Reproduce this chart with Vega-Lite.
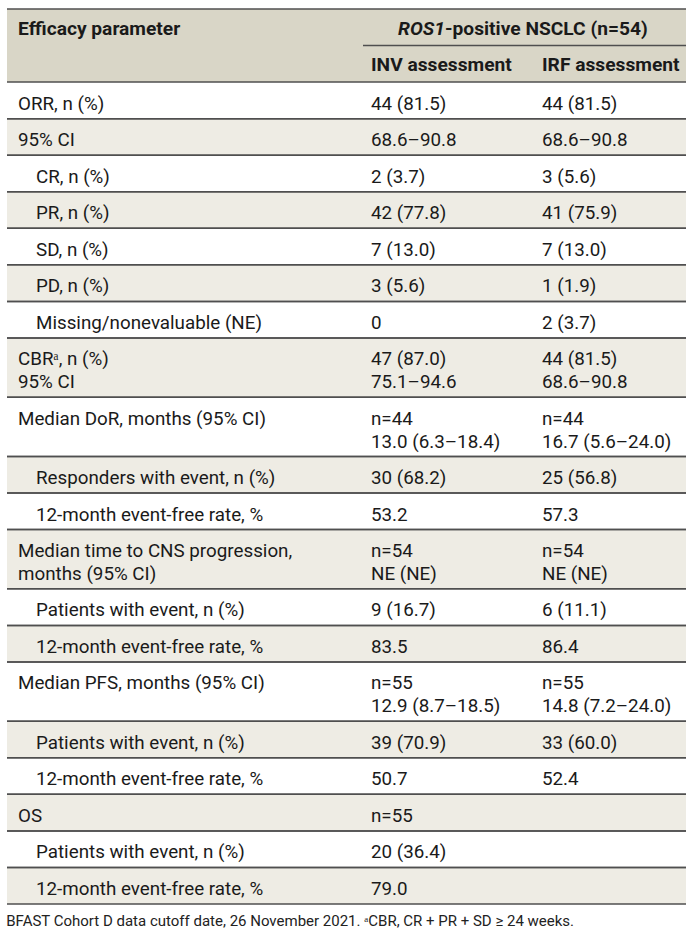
{
  "$schema": "https://vega.github.io/schema/vega-lite/v6.json",
  "width": 679,
  "height": 895,
  "autosize": {"type": "none"},
  "padding": {"left": 7, "top": 9, "right": 9, "bottom": 35},
  "background": "#ffffff",
  "config": {"view": {"stroke": null}, "text": {"font": "Roboto", "fontSize": 18.8, "color": "#1a1a1a"}},
  "title": {"text": "BFAST Cohort D data cutoff date, 26 November 2021. ᵃCBR, CR + PR + SD ≥ 24 weeks.", "orient": "bottom", "anchor": "start", "fontSize": 15, "fontWeight": "normal", "font": "Roboto", "color": "#222222", "offset": 9},
  "data": {"values": [
    {"label": "ORR, n (%)", "inv": "44 (81.5)", "irf": "44 (81.5)", "level": 0},
    {"label": "95% CI", "inv": "68.6–90.8", "irf": "68.6–90.8", "level": 0},
    {"label": "CR, n (%)", "inv": "2 (3.7)", "irf": "3 (5.6)", "level": 1},
    {"label": "PR, n (%)", "inv": "42 (77.8)", "irf": "41 (75.9)", "level": 1},
    {"label": "SD, n (%)", "inv": "7 (13.0)", "irf": "7 (13.0)", "level": 1},
    {"label": "PD, n (%)", "inv": "3 (5.6)", "irf": "1 (1.9)", "level": 1},
    {"label": "Missing/nonevaluable (NE)", "inv": "0", "irf": "2 (3.7)", "level": 1},
    {"label": "CBRᵃ, n (%)\n95% CI", "inv": "47 (87.0)\n75.1–94.6", "irf": "44 (81.5)\n68.6–90.8", "level": 0},
    {"label": "Median DoR, months (95% CI)", "inv": "n=44\n13.0 (6.3–18.4)", "irf": "n=44\n16.7 (5.6–24.0)", "level": 0},
    {"label": "Responders with event, n (%)", "inv": "30 (68.2)", "irf": "25 (56.8)", "level": 1},
    {"label": "12-month event-free rate, %", "inv": "53.2", "irf": "57.3", "level": 1},
    {"label": "Median time to CNS progression,\nmonths (95% CI)", "inv": "n=54\nNE (NE)", "irf": "n=54\nNE (NE)", "level": 0},
    {"label": "Patients with event, n (%)", "inv": "9 (16.7)", "irf": "6 (11.1)", "level": 1},
    {"label": "12-month event-free rate, %", "inv": "83.5", "irf": "86.4", "level": 1},
    {"label": "Median PFS, months (95% CI)", "inv": "n=55\n12.9 (8.7–18.5)", "irf": "n=55\n14.8 (7.2–24.0)", "level": 0},
    {"label": "Patients with event, n (%)", "inv": "39 (70.9)", "irf": "33 (60.0)", "level": 1},
    {"label": "12-month event-free rate, %", "inv": "50.7", "irf": "52.4", "level": 1},
    {"label": "OS", "inv": "n=55", "irf": "", "level": 0},
    {"label": "Patients with event, n (%)", "inv": "20 (36.4)", "irf": "", "level": 1},
    {"label": "12-month event-free rate, %", "inv": "79.0", "irf": "", "level": 1}
  ]},
  "transform": [
    {"calculate": "indexof(datum.inv, '\\n') >= 0 || indexof(datum.label, '\\n') >= 0 ? 2 : 1", "as": "lines"},
    {"window": [{"op": "row_number", "as": "i"}, {"op": "sum", "field": "lines", "as": "cum"}], "frame": [null, 0]},
    {"calculate": "74 + (datum.i - 1) * 14 + (datum.cum - datum.lines) * 23", "as": "top"},
    {"calculate": "datum.top + 14 + datum.lines * 23", "as": "bottom"}
  ],
  "layer": [
    {
      "data": {"values": [{"part": "header"}]},
      "mark": {"type": "rect", "fill": "#d9d6c7"},
      "encoding": {
        "x": {"datum": 0, "type": "quantitative", "scale": {"domain": [0, 1, 2, 3], "range": [0, 356, 527, 679]}, "axis": null},
        "x2": {"datum": 3},
        "y": {"datum": 0, "type": "quantitative", "scale": {"domain": [0, 906], "reverse": true, "nice": false, "zero": false}, "axis": null},
        "y2": {"datum": 74}
      }
    },
    {
      "mark": {"type": "rect"},
      "encoding": {
        "x": {"datum": 0, "type": "quantitative", "scale": {"domain": [0, 1, 2, 3], "range": [0, 356, 527, 679]}, "axis": null},
        "x2": {"datum": 3},
        "y": {"field": "top", "type": "quantitative", "scale": {"domain": [0, 906], "reverse": true, "nice": false, "zero": false}, "axis": null},
        "y2": {"field": "bottom"},
        "fill": {"condition": {"test": "datum.i % 2 == 0", "value": "#eeece4"}, "value": "#ffffff"}
      }
    },
    {
      "mark": {"type": "rule", "stroke": "#4f4f4f", "strokeWidth": 1.5},
      "encoding": {
        "x": {"datum": 0, "type": "quantitative", "scale": {"domain": [0, 1, 2, 3], "range": [0, 356, 527, 679]}, "axis": null},
        "x2": {"datum": 3},
        "y": {"field": "top", "type": "quantitative", "scale": {"domain": [0, 906], "reverse": true, "nice": false, "zero": false}, "axis": null}
      }
    },
    {
      "mark": {"type": "rule", "stroke": "#4f4f4f", "strokeWidth": 1.5},
      "encoding": {
        "x": {"datum": 0, "type": "quantitative", "scale": {"domain": [0, 1, 2, 3], "range": [0, 356, 527, 679]}, "axis": null},
        "x2": {"datum": 3},
        "y": {"field": "bottom", "type": "quantitative", "scale": {"domain": [0, 906], "reverse": true, "nice": false, "zero": false}, "axis": null}
      }
    },
    {
      "data": {"values": [{"part": "header"}]},
      "mark": {"type": "rule", "stroke": "#4f4f4f", "strokeWidth": 1.5},
      "encoding": {
        "x": {"datum": 0, "type": "quantitative", "scale": {"domain": [0, 1, 2, 3], "range": [0, 356, 527, 679]}, "axis": null},
        "x2": {"datum": 3},
        "y": {"datum": 0, "type": "quantitative", "scale": {"domain": [0, 906], "reverse": true, "nice": false, "zero": false}, "axis": null}
      }
    },
    {
      "data": {"values": [{"part": "header"}]},
      "mark": {"type": "rule", "stroke": "#4f4f4f", "strokeWidth": 1.5},
      "encoding": {
        "x": {"datum": 1, "type": "quantitative", "scale": {"domain": [0, 1, 2, 3], "range": [0, 356, 527, 679]}, "axis": null},
        "x2": {"datum": 3},
        "y": {"datum": 37, "type": "quantitative", "scale": {"domain": [0, 906], "reverse": true, "nice": false, "zero": false}, "axis": null}
      }
    },
    {
      "data": {"values": [{"part": "header", "text": "Efficacy parameter"}]},
      "mark": {"type": "text", "align": "left", "baseline": "top", "dx": 11, "dy": 10.5, "fontWeight": "bold", "fontSize": 19.2},
      "encoding": {
        "x": {"datum": 0, "type": "quantitative", "scale": {"domain": [0, 1, 2, 3], "range": [0, 356, 527, 679]}, "axis": null},
        "y": {"datum": 0, "type": "quantitative", "scale": {"domain": [0, 906], "reverse": true, "nice": false, "zero": false}, "axis": null},
        "text": {"field": "text"}
      }
    },
    {
      "data": {"values": [{"part": "header", "text": "ROS1"}]},
      "mark": {"type": "text", "align": "right", "baseline": "top", "dx": -3.5, "dy": 10.5, "fontWeight": "bold", "fontStyle": "italic", "fontSize": 19.2},
      "encoding": {
        "x": {"datum": 1.5, "type": "quantitative", "scale": {"domain": [0, 1, 2, 3], "range": [0, 356, 527, 679]}, "axis": null},
        "y": {"datum": 0, "type": "quantitative", "scale": {"domain": [0, 906], "reverse": true, "nice": false, "zero": false}, "axis": null},
        "text": {"field": "text"}
      }
    },
    {
      "data": {"values": [{"part": "header", "text": "-positive NSCLC (n=54)"}]},
      "mark": {"type": "text", "align": "left", "baseline": "top", "dx": -3.5, "dy": 10.5, "fontWeight": "bold", "fontSize": 19.2},
      "encoding": {
        "x": {"datum": 1.5, "type": "quantitative", "scale": {"domain": [0, 1, 2, 3], "range": [0, 356, 527, 679]}, "axis": null},
        "y": {"datum": 0, "type": "quantitative", "scale": {"domain": [0, 906], "reverse": true, "nice": false, "zero": false}, "axis": null},
        "text": {"field": "text"}
      }
    },
    {
      "data": {"values": [{"part": "header", "text": "INV assessment"}]},
      "mark": {"type": "text", "align": "left", "baseline": "top", "dx": 8, "dy": 10.5, "fontWeight": "bold", "fontSize": 19.2},
      "encoding": {
        "x": {"datum": 1, "type": "quantitative", "scale": {"domain": [0, 1, 2, 3], "range": [0, 356, 527, 679]}, "axis": null},
        "y": {"datum": 37, "type": "quantitative", "scale": {"domain": [0, 906], "reverse": true, "nice": false, "zero": false}, "axis": null},
        "text": {"field": "text"}
      }
    },
    {
      "data": {"values": [{"part": "header", "text": "IRF assessment"}]},
      "mark": {"type": "text", "align": "left", "baseline": "top", "dx": 8, "dy": 10.5, "fontWeight": "bold", "fontSize": 19.2},
      "encoding": {
        "x": {"datum": 2, "type": "quantitative", "scale": {"domain": [0, 1, 2, 3], "range": [0, 356, 527, 679]}, "axis": null},
        "y": {"datum": 37, "type": "quantitative", "scale": {"domain": [0, 906], "reverse": true, "nice": false, "zero": false}, "axis": null},
        "text": {"field": "text"}
      }
    },
    {
      "transform": [{"filter": "datum.level == 0"}],
      "mark": {"type": "text", "align": "left", "baseline": "top", "dx": 11, "dy": 12.5, "lineHeight": 23, "lineBreak": "\n"},
      "encoding": {
        "x": {"datum": 0, "type": "quantitative", "scale": {"domain": [0, 1, 2, 3], "range": [0, 356, 527, 679]}, "axis": null},
        "y": {"field": "top", "type": "quantitative", "scale": {"domain": [0, 906], "reverse": true, "nice": false, "zero": false}, "axis": null},
        "text": {"field": "label"}
      }
    },
    {
      "transform": [{"filter": "datum.level == 1"}],
      "mark": {"type": "text", "align": "left", "baseline": "top", "dx": 29, "dy": 12.5, "lineHeight": 23, "lineBreak": "\n"},
      "encoding": {
        "x": {"datum": 0, "type": "quantitative", "scale": {"domain": [0, 1, 2, 3], "range": [0, 356, 527, 679]}, "axis": null},
        "y": {"field": "top", "type": "quantitative", "scale": {"domain": [0, 906], "reverse": true, "nice": false, "zero": false}, "axis": null},
        "text": {"field": "label"}
      }
    },
    {
      "mark": {"type": "text", "align": "left", "baseline": "top", "dx": 8, "dy": 12.5, "lineHeight": 23, "lineBreak": "\n"},
      "encoding": {
        "x": {"datum": 1, "type": "quantitative", "scale": {"domain": [0, 1, 2, 3], "range": [0, 356, 527, 679]}, "axis": null},
        "y": {"field": "top", "type": "quantitative", "scale": {"domain": [0, 906], "reverse": true, "nice": false, "zero": false}, "axis": null},
        "text": {"field": "inv"}
      }
    },
    {
      "mark": {"type": "text", "align": "left", "baseline": "top", "dx": 8, "dy": 12.5, "lineHeight": 23, "lineBreak": "\n"},
      "encoding": {
        "x": {"datum": 2, "type": "quantitative", "scale": {"domain": [0, 1, 2, 3], "range": [0, 356, 527, 679]}, "axis": null},
        "y": {"field": "top", "type": "quantitative", "scale": {"domain": [0, 906], "reverse": true, "nice": false, "zero": false}, "axis": null},
        "text": {"field": "irf"}
      }
    }
  ]
}
